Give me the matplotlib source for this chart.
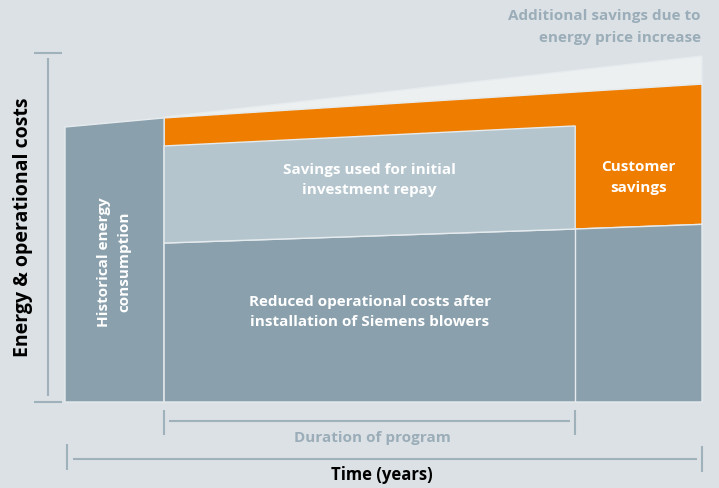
"""
Energy cost savings concept chart (Siemens blowers).
"""
import matplotlib.pyplot as plt
import numpy as np

# phase boundaries along the time axis (arbitrary years)
YEARS = [0.0, 1.0, 5.15, 6.43]
# energy & operational cost levels (arbitrary units)
HISTORICAL_TOP = [100.0, 103.3]          # at YEARS[0], YEARS[1]
REDUCED_TOP = [57.8, 62.9, 64.6]         # at YEARS[1], YEARS[2], YEARS[3]
REPAY_TOP = [93.1, 100.4]                # at YEARS[1], YEARS[2]
CURRENT_COST_TOP = [103.3, 112.7, 115.6] # at YEARS[1], YEARS[2], YEARS[3]
PRICE_RISE_TOP = [103.6, 120.6, 125.8]   # at YEARS[1], YEARS[2], YEARS[3]

BG = "#dce1e5"
DARK = "#8aa0ac"
LIGHT = "#b5c5cd"
ORANGE = "#ef7d00"
PALE = "#edf0f1"
LINE = "#9fb1bb"
GREY_TEXT = "#9aadb8"
EDGE = "#e6ebee"

plt.rcParams["font.family"] = ["Open Sans", "DejaVu Sans"]

W, H = 719, 488
fig = plt.figure(figsize=(W / 100, H / 100), dpi=100, facecolor=BG)

# plot area: x 65..702 px, y 44.5..402 px
ax = fig.add_axes([65 / W, 1 - 402 / H, (702 - 65) / W, 357.5 / H])
ax.set_xlim(YEARS[0], YEARS[3])
ax.set_ylim(0, 130)
ax.axis("off")


def band(xs, lower, upper, color):
    xs = np.asarray(xs)
    poly_x = np.concatenate([xs, xs[::-1]])
    poly_y = np.concatenate([lower, upper[::-1]])
    ax.fill(poly_x, poly_y, facecolor=color, edgecolor=EDGE, linewidth=1.0,
            clip_on=False, zorder=2)


x_prog = YEARS[1:]
reduced = np.array(REDUCED_TOP)
current = np.array(CURRENT_COST_TOP)
price = np.array(PRICE_RISE_TOP)

# additional savings wedge (energy price increase)
band(x_prog, current, price, PALE)
# orange: customer / total savings strip
band(x_prog, reduced, current, ORANGE)
# historical consumption block
band(YEARS[:2], np.zeros(2), np.array(HISTORICAL_TOP), DARK)
# reduced operational costs
band(x_prog, np.zeros(3), reduced, DARK)
# savings used for investment repay
band(YEARS[1:3], reduced[:2], np.array(REPAY_TOP), LIGHT)
# divider at end of program
ax.plot([YEARS[2], YEARS[2]], [0, reduced[1]], color=EDGE, lw=1.0, zorder=3)

# value axis with caps
lkw = dict(color=LINE, lw=1.5, clip_on=False, solid_capstyle="butt")
ax.plot([-0.17, -0.17], [2.2, 125.1], **lkw)
ax.plot([-0.31, -0.03], [126.9, 126.9], **lkw)
ax.plot([-0.31, -0.03], [0, 0], **lkw)

# duration of program bracket
ax.plot([YEARS[1], YEARS[1]], [-2.9, -12.0], **lkw)
ax.plot([YEARS[2], YEARS[2]], [-2.9, -12.0], **lkw)
ax.plot([YEARS[1] + 0.05, YEARS[2] - 0.05], [-6.9, -6.9], **lkw)

# time bracket
ax.plot([YEARS[0] + 0.02, YEARS[0] + 0.02], [-15.3, -24.8], **lkw)
ax.plot([YEARS[3], YEARS[3]], [-16.0, -25.5], **lkw)
ax.plot([YEARS[0] + 0.08, YEARS[3] - 0.05], [-20.7, -20.7], **lkw)

# labels
wkw = dict(color="white", fontsize=11, fontweight="bold", ha="center",
           va="center", linespacing=1.6, zorder=5)
ax.text((YEARS[1] + YEARS[2]) / 2, 80.7, "Savings used for initial\ninvestment repay", **wkw)
ax.text((YEARS[2] + YEARS[3]) / 2, 81.6, "Customer\nsavings", **wkw)
ax.text((YEARS[1] + YEARS[2]) / 2, 32.7,
        "Reduced operational costs after\ninstallation of Siemens blowers", **wkw)
ax.text((YEARS[0] + YEARS[1]) / 2, 51, "Historical energy\nconsumption",
        rotation=90, **wkw)

fig.text(701 / W, 1 - 27 / H, "Additional savings due to\nenergy price increase",
         color=GREY_TEXT, fontsize=11, fontweight="bold", ha="right", va="center",
         linespacing=1.75)
fig.text(372 / W, 1 - 438 / H, "Duration of program", color=GREY_TEXT,
         fontsize=11, fontweight="bold", ha="center", va="center")
fig.text(382 / W, 1 - 475 / H, "Time (years)", color="black",
         fontsize=12, fontweight="bold", ha="center", va="center")
fig.text(23 / W, 1 - 227 / H, "Energy & operational costs", color="black",
         fontsize=14, fontweight="bold", ha="center", va="center", rotation=90)

fig.savefig("out.png", dpi=100, facecolor=BG)
